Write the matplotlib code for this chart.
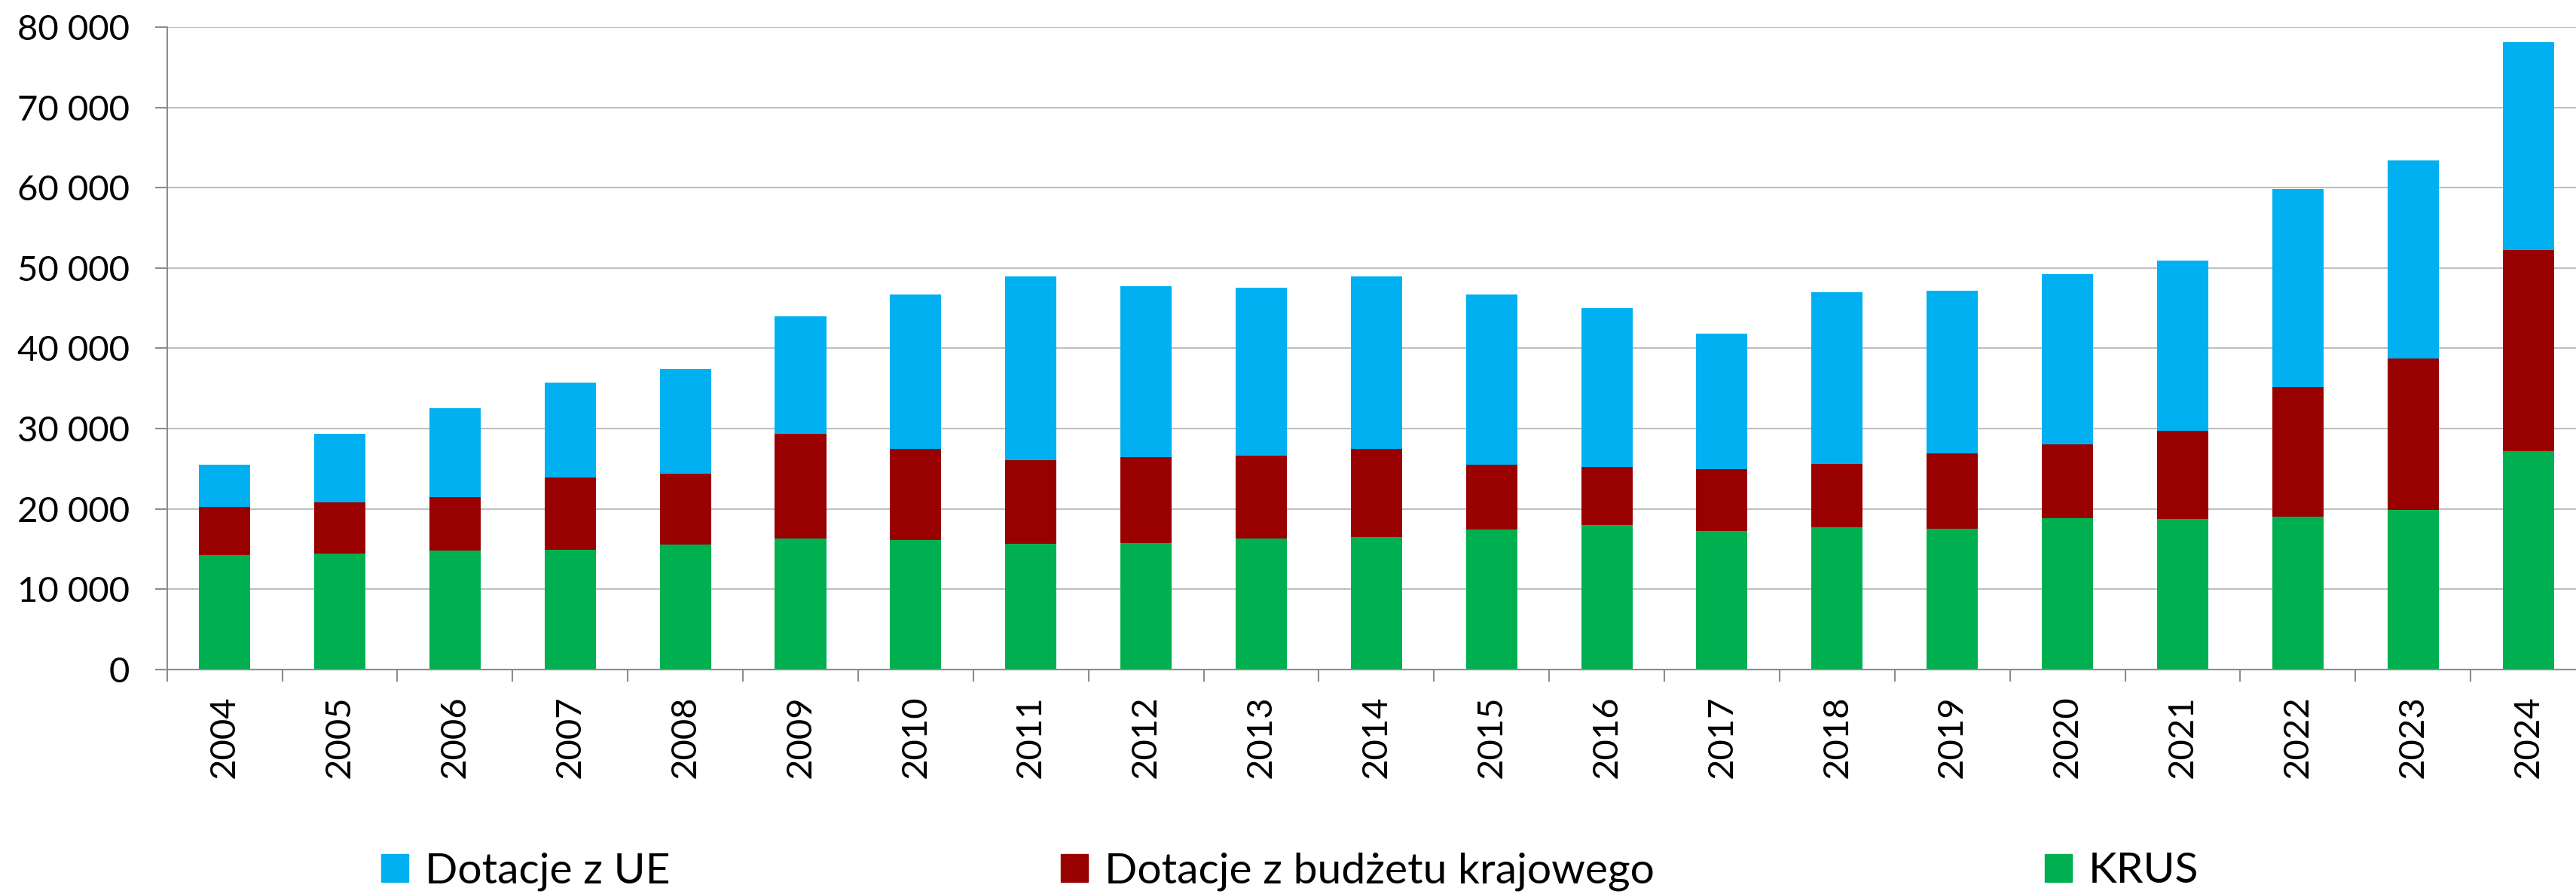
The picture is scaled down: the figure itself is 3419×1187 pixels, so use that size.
import matplotlib
matplotlib.use("Agg")
import matplotlib.pyplot as plt
from matplotlib.ticker import FuncFormatter, FixedLocator
from matplotlib.patches import Patch
import numpy as np

plt.rcParams['font.family'] = ['Lato', 'DejaVu Sans']

years = [str(y) for y in range(2004, 2025)]
# cumulative tops
krus = [14200, 14400, 14800, 14900, 15500, 16300, 16100, 15600, 15700, 16300, 16500,
        17400, 18000, 17200, 17700, 17500, 18800, 18700, 19000, 19900, 27200]
krus_plus_budget = [20200, 20800, 21500, 23900, 24400, 29300, 27500, 26100, 26400, 26600, 27500,
                    25500, 25200, 24900, 25600, 26900, 28000, 29700, 35200, 38700, 52200]
total = [25500, 29300, 32500, 35700, 37400, 44000, 46700, 48900, 47700, 47500, 48900,
         46700, 45000, 41800, 47000, 47200, 49200, 50900, 59800, 63400, 78100]

budget = [b - k for b, k in zip(krus_plus_budget, krus)]
eu = [t - b for t, b in zip(total, krus_plus_budget)]

labels = ["Dotacje z UE", "Dotacje z budżetu krajowego", "KRUS"]
colors = {"eu": "#00B0F0", "budget": "#990000", "krus": "#00B050"}

W, H = 3419, 1187
fig = plt.figure(figsize=(W / 100, H / 100), dpi=100)
ax = fig.add_axes([221.7 / W, (H - 888.7) / H, (3432 - 221.7) / W, (888.7 - 36) / H])

x = np.arange(len(years))
bw = 0.445
ax.bar(x, krus, bw, color=colors["krus"], zorder=3)
ax.bar(x, budget, bw, bottom=krus, color=colors["budget"], zorder=3)
ax.bar(x, eu, bw, bottom=krus_plus_budget, color=colors["eu"], zorder=3)

ax.set_xlim(-0.5, len(years) - 0.5)
ax.set_ylim(0, 80000)
ax.set_yticks(np.arange(0, 80001, 10000))
ax.yaxis.set_major_formatter(FuncFormatter(lambda v, p: f"{v:,.0f}".replace(",", " ")))
ax.grid(axis='y', color='#BFBFBF', linewidth=1.5, zorder=0)
ax.set_axisbelow(True)

ax.set_xticks(x)
ax.set_xticklabels(years, rotation=90)
ax.xaxis.set_minor_locator(FixedLocator(np.arange(-0.5, len(years), 1.0)))
ax.tick_params(axis='x', which='major', length=0, pad=25, labelsize=34)
ax.tick_params(axis='x', which='minor', length=11.5, width=1.5, color='#8C8C8C')
ax.tick_params(axis='y', which='major', length=11.5, width=1.5, color='#8C8C8C', pad=24, labelsize=34)

for s in ['top', 'right']:
    ax.spines[s].set_visible(False)
for s in ['left', 'bottom']:
    ax.spines[s].set_color('#8C8C8C')
    ax.spines[s].set_linewidth(1.5)
ax.spines['bottom'].set_zorder(4)

handles = [Patch(color=colors["eu"]), Patch(color=colors["budget"]), Patch(color=colors["krus"])]
fig.legend(handles, labels, ncol=3, loc='center', bbox_to_anchor=(0.5008, 30 / H),
           frameon=False, fontsize=41, handlelength=0.63, handleheight=0.63,
           handletextpad=0.39, columnspacing=9.1, borderpad=0)

fig.savefig("out.png", dpi=100)
